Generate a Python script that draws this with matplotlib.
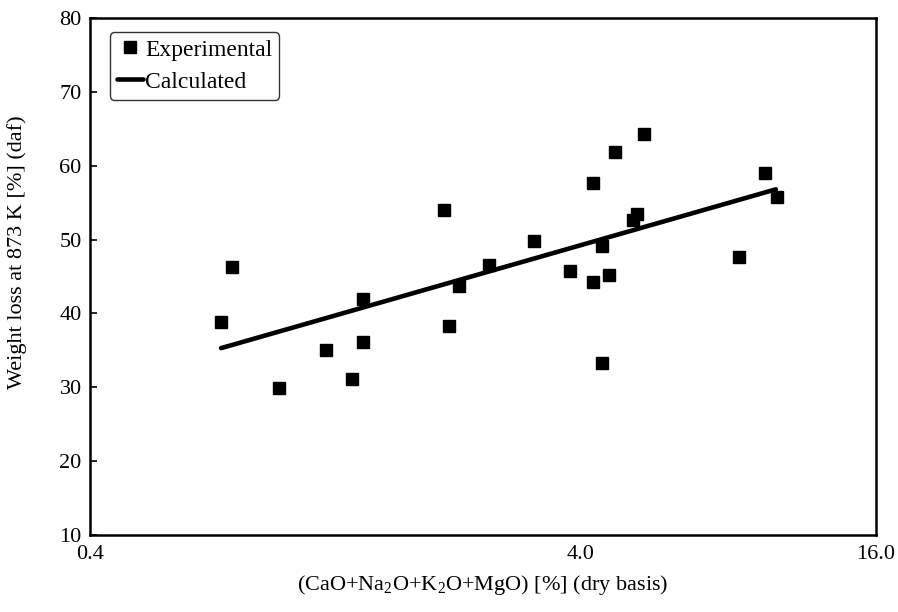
#%% Libraries
import matplotlib
matplotlib.use("Agg")
import matplotlib.pyplot as plt
from matplotlib.ticker import FixedLocator, FixedFormatter, NullLocator

#%% Figure settings
plt.rcParams['font.family'] = ['Liberation Serif', 'DejaVu Serif']
plt.rcParams['mathtext.fontset'] = 'custom'
plt.rcParams['mathtext.rm'] = 'Liberation Serif'
plt.rcParams['mathtext.default'] = 'regular'

#%% Data
exp_x = [0.74, 0.78, 0.97, 1.21, 1.37, 1.44, 1.44, 2.11, 2.16, 2.26, 2.60, 3.21,
         3.81, 4.24, 4.24, 4.42, 4.42, 4.57, 4.70, 5.11, 5.21, 5.38, 8.41, 9.50, 10.05]
exp_y = [38.9, 46.3, 29.9, 35.0, 31.1, 41.9, 36.1, 54.0, 38.3, 43.7, 46.6, 49.8,
         45.7, 57.7, 44.3, 49.1, 33.3, 45.2, 61.9, 52.6, 53.5, 64.3, 47.6, 59.0, 55.8]
calc_x = [0.74, 10.0]
calc_y = [35.3, 56.8]

x_ticks = [0.4, 4.0, 16.0]
x_ticklabels = ['0.4', '4.0', '16.0']
y_ticks = [10, 20, 30, 40, 50, 60, 70, 80]

#%% Plot
fig = plt.figure(figsize=(8.98, 6.12), dpi=100)
ax = fig.add_axes([90/898, 1-535/612, 786/898, 517/612])

ax.plot(exp_x, exp_y, 's', color='black', markersize=8, label='Experimental')
ax.plot(calc_x, calc_y, '-', color='black', linewidth=3.3, solid_capstyle='round',
        label='Calculated')

ax.set_xscale('log')
ax.set_xlim(0.4, 16.0)
ax.set_ylim(10, 80)
ax.xaxis.set_major_locator(FixedLocator(x_ticks))
ax.xaxis.set_major_formatter(FixedFormatter(x_ticklabels))
ax.xaxis.set_minor_locator(NullLocator())
ax.set_yticks(y_ticks)

ax.tick_params(axis='x', direction='in', length=0, labelsize=16, pad=7)
ax.tick_params(axis='y', direction='in', length=5, width=1.2, labelsize=16, pad=6)
for sp in ax.spines.values():
    sp.set_linewidth(1.8)

ax.set_xlabel('(CaO+Na$_2$O+K$_2$O+MgO) [%] (dry basis)', fontsize=16, labelpad=7)
ax.set_ylabel('Weight loss at 873 K [%] (daf)', fontsize=16)
ax.yaxis.set_label_coords(-0.08, 0.547)

leg = ax.legend(loc='upper left', bbox_to_anchor=(0.025, 0.973), borderaxespad=0,
                fontsize=17, frameon=True, fancybox=True, edgecolor='black',
                handlelength=1.1, handletextpad=0.1, borderpad=0.3,
                labelspacing=0.45, markerscale=1.0)
leg.get_frame().set_linewidth(1.0)

fig.savefig('out.png', dpi=100)
